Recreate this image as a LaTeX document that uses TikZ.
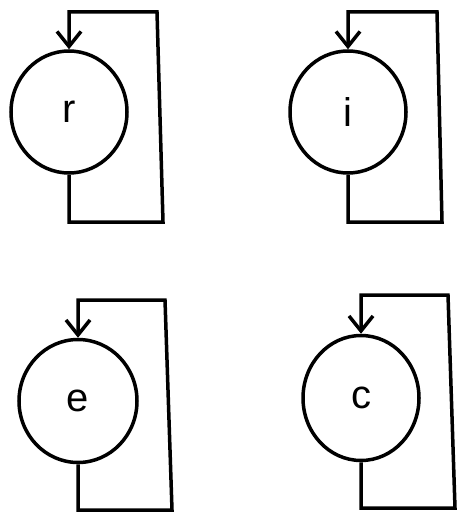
\documentclass[tikz,border=0pt]{standalone}
\usepackage{fontspec}
\setmainfont{Liberation Sans}
\usetikzlibrary{arrows.meta,shapes.geometric}

\begin{document}
\begin{tikzpicture}[x=1pt,y=-1pt,
    state/.style={draw,ellipse,line width=3.5pt,inner sep=0pt,minimum width=116pt,minimum height=122pt,font=\fontsize{40}{46}\selectfont},
    selfloop/.style={draw,line width=3.5pt,-{Straight Barb[length=15pt,width=24pt,line width=3.5pt]}}]
  \useasboundingbox (0,0) rectangle (457,519);

  % Relation r
  \node[state] (r) at (69,112) {r};
  \coordinate (r-br) at (163,222);
  \coordinate (r-tr) at (157,12);
  \draw[selfloop] (r.south) |- (r-br) -- (r-tr) -| (r.north);

  % Relation i
  \node[state] (i) at (348,112) {i};
  \coordinate (i-br) at (442,222);
  \coordinate (i-tr) at (437,12);
  \draw[selfloop] (i.south) |- (i-br) -- (i-tr) -| (i.north);

  % Relation e
  \node[state,minimum width=118pt,minimum height=123pt] (e) at (78,401) {e};
  \coordinate (e-br) at (172,510);
  \coordinate (e-tr) at (165,300);
  \draw[selfloop] (e.south) |- (e-br) -- (e-tr) -| (e.north);

  % Relation c
  \node[state,minimum height=125pt] (c) at (361,398) {c};
  \coordinate (c-br) at (455,508);
  \coordinate (c-tr) at (448,295);
  \draw[selfloop] (c.south) |- (c-br) -- (c-tr) -| (c.north);

\end{tikzpicture}
\end{document}
